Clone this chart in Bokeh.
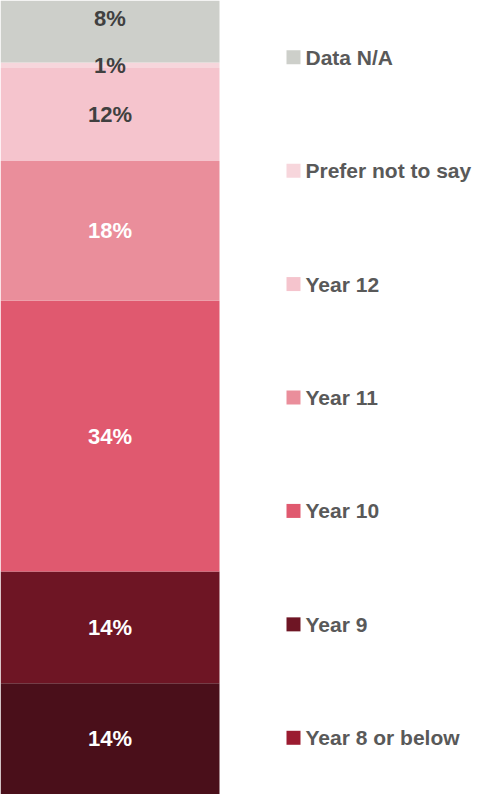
import numpy as np
from bokeh.plotting import figure
from bokeh.models import Range1d, ColumnDataSource
from bokeh.core.properties import value
from bokeh.embed import file_html
from bokeh.resources import INLINE

# Data (bottom to top of the stacked bar)
categories = ["Year 8 or below", "Year 9", "Year 10", "Year 11", "Year 12", "Prefer not to say", "Data N/A"]
values = [14.0, 14.1, 34.1, 17.6, 11.7, 0.7, 7.8]
labels = ["14%", "14%", "34%", "18%", "12%", "1%", "8%"]
bar_colors = ["#4a0f1a", "#6e1524", "#e0596f", "#ea8e9b", "#f5c4cd", "#f7d6dc", "#cdcfca"]
legend_colors = ["#9b1b30", "#6e1524", "#e0596f", "#ea8e9b", "#f5c4cd", "#f7d6dc", "#cdcfca"]
label_colors = ["#ffffff", "#ffffff", "#ffffff", "#ffffff", "#404040", "#404040", "#404040"]
label_offsets = [0, 0, 0, 0, 0, 0, -13]

W, H = 474, 794
BAR_W = 219

tops = np.cumsum(values)
bottoms = tops - np.array(values)
total = tops[-1]
mids = (tops + bottoms) / 2

p = figure(width=W, height=H, output_backend="svg", toolbar_location=None,
           x_range=Range1d(0, W), y_range=Range1d(0, total),
           min_border=0, x_axis_location=None, y_axis_location=None)
p.grid.visible = False
p.outline_line_color = None
p.background_fill_color = "white"
p.border_fill_color = "white"

bar_src = ColumnDataSource(dict(bottom=bottoms, top=tops, color=bar_colors,
                                mid=mids, label=labels, lcolor=label_colors,
                                yoff=label_offsets, cat=categories))
p.quad(left=0, right=BAR_W, bottom="bottom", top="top", fill_color="color",
       line_color=None, source=bar_src)
p.text(x=BAR_W / 2, y="mid", text="label", text_color="lcolor", y_offset="yoff",
       text_align="center", text_baseline="middle",
       text_font=value("Liberation Sans"), text_font_style="bold",
       text_font_size="22px", source=bar_src)

# Legend: evenly distributed rows, top = Data N/A
n = len(categories)
leg_y = [total * (1 - (n - 1 - i + 0.5) / n) for i in range(n)]
leg_src = ColumnDataSource(dict(y=leg_y, color=legend_colors, cat=categories))
p.scatter(x=293, y="y", marker="square", size=14, fill_color="color",
          line_color=None, source=leg_src)
p.text(x=305, y="y", text="cat", text_color="#595959", text_align="left",
       text_baseline="middle", text_font=value("Liberation Sans"),
       text_font_style="bold", text_font_size="21px", source=leg_src)

open("out.html", "w").write(file_html(p, INLINE))
